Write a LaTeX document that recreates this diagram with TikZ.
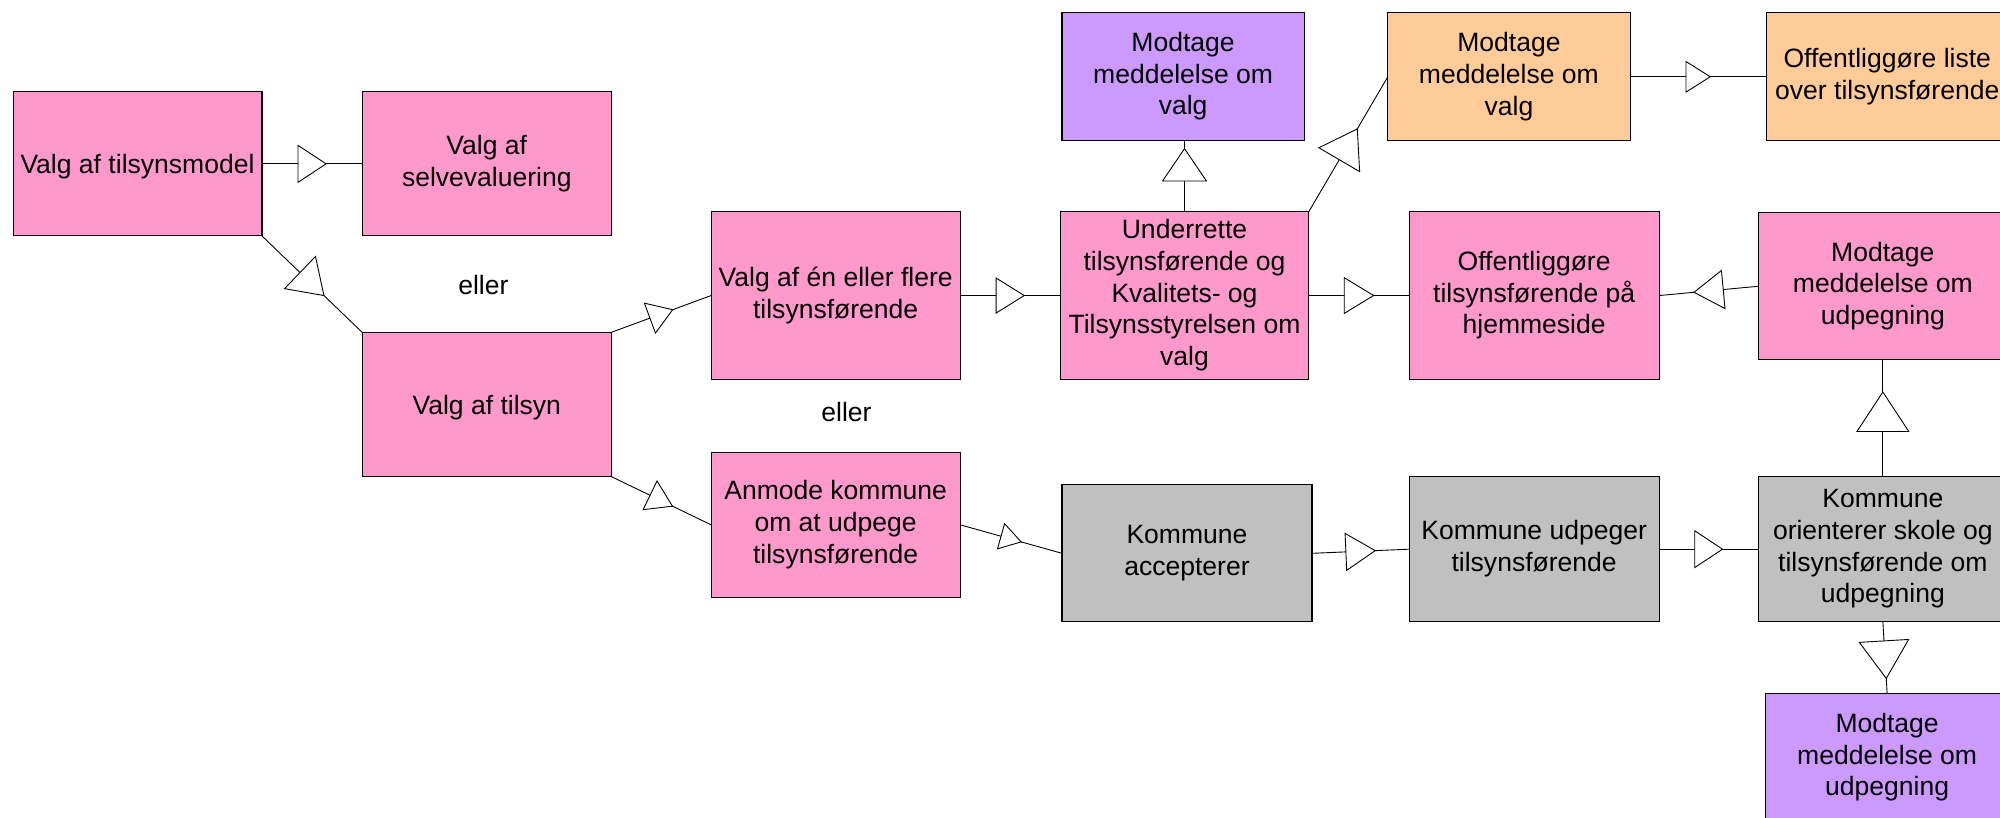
\documentclass[tikz,border=0pt]{standalone}
\usepackage{fontspec}
\setmainfont{Liberation Sans}
\usetikzlibrary{decorations.markings}
\definecolor{pinkbox}{HTML}{FF99CC}
\definecolor{purplebox}{HTML}{CC99FF}
\definecolor{orangebox}{HTML}{FFCC99}
\definecolor{graybox}{HTML}{C0C0C0}
\tikzset{
  box/.style={draw=black, line width=0.8pt, outer sep=0pt, inner sep=2pt,
    align=center, font=\fontsize{20.8}{24.8}\selectfont,
    execute at begin node={\rule{0pt}{20.1pt}},
    execute at end node={\rule[-4.7pt]{0pt}{4.7pt}}},
  flow/.style={line width=0.7pt},
  tri/.style n args={3}{postaction={decorate}, decoration={markings,
    mark=at position #1 with {\draw[fill=white, line width=0.7pt, line join=miter]
      (-#2/2,#3/2) -- (#2/2,0) -- (-#2/2,-#3/2) -- cycle;}}},
  note/.style={font=\fontsize{20.8}{24.8}\selectfont},
}
\begin{document}
\begin{tikzpicture}[x=1pt, y=-1pt]
\useasboundingbox (0,0) rectangle (1568,641);

% boxes
\node[box, fill=pinkbox, minimum width=195.2pt, minimum height=113.1pt] (A) at (107.8,128.45) {Valg af tilsynsmodel};
\node[box, fill=pinkbox, minimum width=195.5pt, minimum height=113.1pt] (B) at (381.65,128.45) {Valg af\\selvevaluering};
\node[box, fill=pinkbox, minimum width=195.5pt, minimum height=113.2pt] (C) at (381.65,317.1) {Valg af tilsyn};
\node[box, fill=pinkbox, minimum width=195.3pt, minimum height=131.4pt] (D) at (655.15,231.7) {Valg af én eller flere\\tilsynsførende};
\node[box, fill=pinkbox, minimum width=195.3pt, minimum height=113.7pt] (E) at (655.15,411.45) {Anmode kommune\\om at udpege\\tilsynsførende};
\node[box, fill=pinkbox, minimum width=194.9pt, minimum height=131.4pt] (F) at (928.65,231.7) {Underrette\\tilsynsførende og\\Kvalitets- og\\Tilsynsstyrelsen om\\valg};
\node[box, fill=purplebox, minimum width=189.9pt, minimum height=100.4pt] (G) at (927.55,60.1) {Modtage\\meddelelse om\\valg};
\node[box, fill=orangebox, minimum width=190pt, minimum height=100.6pt] (H) at (1183,60.2) {Modtage\\meddelelse om\\valg};
\node[box, fill=orangebox, minimum width=190pt, minimum height=100.6pt] (I) at (1479.6,60.2) {Offentliggøre liste\\over tilsynsførende};
\node[box, fill=pinkbox, minimum width=196.1pt, minimum height=131.4pt] (J) at (1202.75,231.7) {Offentliggøre\\tilsynsførende på\\hjemmeside};
\node[box, fill=pinkbox, minimum width=195.7pt, minimum height=115.5pt] (K) at (1476.15,224.45) {Modtage\\meddelelse om\\udpegning};
\node[box, fill=graybox, minimum width=196pt, minimum height=107.2pt] (L) at (930.6,433.8) {Kommune\\accepterer};
\node[box, fill=graybox, minimum width=196.1pt, minimum height=113.7pt] (M) at (1202.75,430.55) {Kommune udpeger\\tilsynsførende};
\node[box, fill=graybox, minimum width=195.7pt, minimum height=113.7pt] (N) at (1476.15,430.55) {Kommune\\orienterer skole og\\tilsynsførende om\\udpegning};
\node[box, fill=purplebox, minimum width=190pt, minimum height=100.6pt] (O) at (1479.5,593.9) {Modtage\\meddelelse om\\udpegning};

% alternatives
\node[note] (or1) at (379,223.4) {eller};
\node[note] (or2) at (663.6,322.8) {eller};

% connectors with open triangle heads
\draw[flow, tri={0.5}{22}{29}] (A.east) -- (B.west);
\draw[flow, tri={0.5}{26}{35}] (A.south east) -- (C.north west);
\draw[flow, tri={0.5}{19}{25}] (C.north east) -- (D.west);
\draw[flow, tri={0.5}{19.5}{25}] (C.south east) -- (E.west);
\draw[flow, tri={0.5}{22}{27.4}] (D.east) -- (F.west);
\draw[flow, tri={0.66}{25.4}{34.5}] (F.north) -- (F.north |- G.south);
\draw[flow, tri={0.5}{28}{37}] (F.north east) -- (H.west);
\draw[flow, tri={0.5}{19}{24}] (H.east) -- (I.west);
\draw[flow, tri={0.5}{23}{28}] (F.east) -- (J.west);
\draw[flow, tri={0.5}{23}{30}] (K.west) -- (J.east);
\draw[flow, tri={0.556}{31}{40.7}] (N.north) -- (K.south);
\draw[flow, tri={0.5}{16.4}{20.5}] (E.east) -- (L.west);
\draw[flow, tri={0.5}{23}{29}] (L.east) -- (M.west);
\draw[flow, tri={0.5}{21.7}{28.8}] (M.east) -- (N.west);
\draw[flow, tri={0.53}{29.5}{38.7}] (N.south) -- (O.north);
\end{tikzpicture}
\end{document}
